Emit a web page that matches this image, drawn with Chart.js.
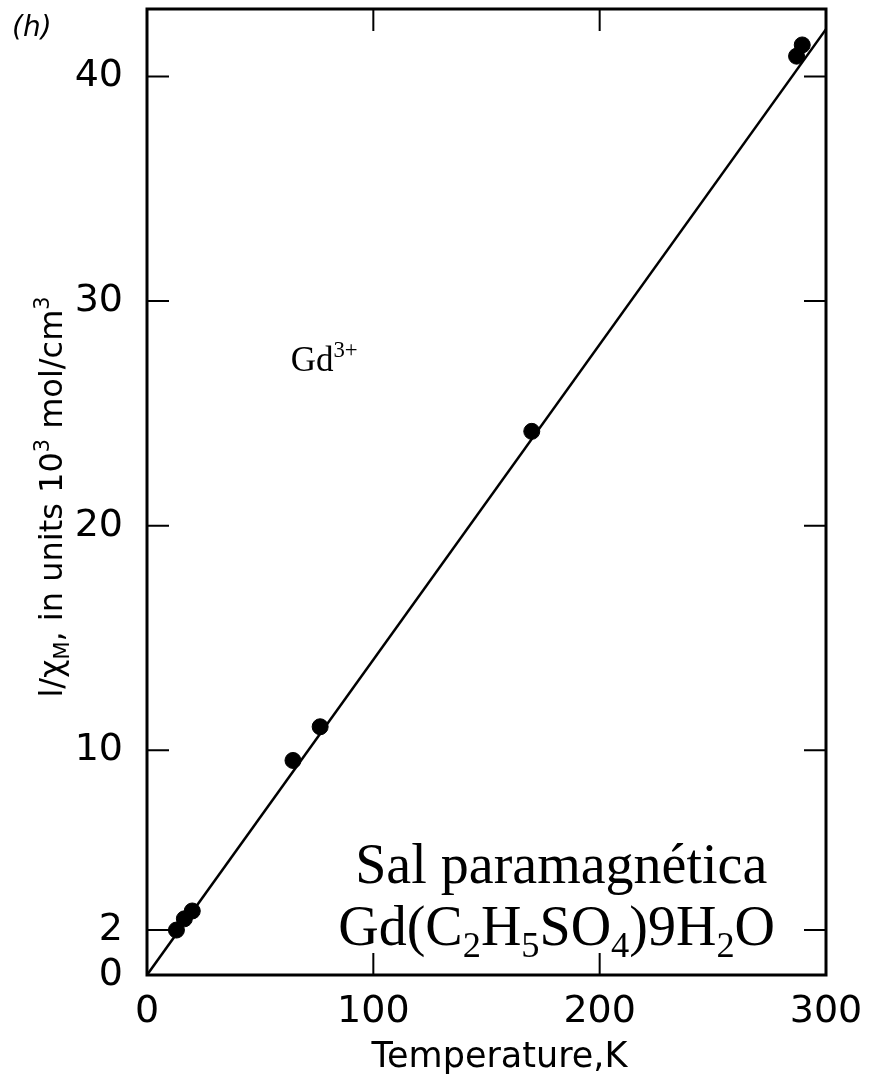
<!DOCTYPE html>
<html>
<head>
<meta charset="utf-8">
<script src="https://cdn.jsdelivr.net/npm/chart.js@4.4.1/dist/chart.umd.min.js"></script>
<style>
  html, body { margin: 0; padding: 0; background: #fff; }
  #wrap { width: 873px; height: 1080px; }
</style>
</head>
<body>
<div id="wrap"><canvas id="chart" width="873" height="1080"></canvas></div>
<script>
// datos
const tempK = [13, 16.5, 20, 64.5, 76.5, 170, 287, 289.5];
const invChi = [2.0, 2.5, 2.85, 9.55, 11.05, 24.2, 40.9, 41.4];
const fitT = [0, 300];
const fitInvChi = [0, 42.1];
const xTicks = [0, 100, 200, 300];
const yTicks = [0, 2, 10, 20, 30, 40];
const xMarks = [100, 200];
const yMarks = [2, 10, 20, 30, 40];

const panelLabel = "(h)";
const ionLabel = [["Gd", ""], ["3+", "sup"]];
const saltLine1 = [["Sal paramagnética", ""]];
const saltLine2 = [["Gd(C", ""], ["2", "sub"], ["H", ""], ["5", "sub"], ["SO", ""], ["4", "sub"], [")9H", ""], ["2", "sub"], ["O", ""]];
const yTitle = [["l/χ", ""], ["M", "sub"], [", in units 10", ""], ["3", "sup"], [" mol/cm", ""], ["3", "sup"]];
const xTitle = "Temperature,K";

const sans = '"DejaVu Sans", sans-serif';
const serif = '"Liberation Serif", "Times New Roman", serif';

// texto con subindices / superindices
function drawRich(ctx, parts, x, y, size, family) {
  let cx = x;
  parts.forEach(([t, kind]) => {
    const s = kind ? size * 0.65 : size;
    const dy = kind === "sub" ? size * 0.22 : kind === "sup" ? -size * 0.4 : 0;
    ctx.font = `${s}px ${family}`;
    ctx.fillText(t, cx, y + dy);
    cx += ctx.measureText(t).width;
  });
  return cx - x;
}
function richWidth(ctx, parts, size, family) {
  let w = 0;
  parts.forEach(([t, kind]) => {
    ctx.font = `${kind ? size * 0.65 : size}px ${family}`;
    w += ctx.measureText(t).width;
  });
  return w;
}

const overlay = {
  id: "overlay",
  afterDatasetsDraw(chart) {
    const { ctx, chartArea: a, scales: { x, y } } = chart;
    ctx.save();
    ctx.strokeStyle = "#000";
    ctx.fillStyle = "#000";
    ctx.lineWidth = 3;
    ctx.strokeRect(a.left, a.top, a.right - a.left, a.bottom - a.top);

    // marcas hacia dentro
    ctx.lineWidth = 2;
    ctx.beginPath();
    xMarks.forEach(v => {
      const px = x.getPixelForValue(v);
      ctx.moveTo(px, a.bottom); ctx.lineTo(px, a.bottom - 22);
      ctx.moveTo(px, a.top); ctx.lineTo(px, a.top + 22);
    });
    yMarks.forEach(v => {
      const py = y.getPixelForValue(v);
      ctx.moveTo(a.left, py); ctx.lineTo(a.left + 22, py);
      ctx.moveTo(a.right, py); ctx.lineTo(a.right - 22, py);
    });
    ctx.stroke();

    ctx.textBaseline = "alphabetic";
    ctx.textAlign = "left";
    ctx.font = `oblique 28px ${sans}`;
    ctx.fillText(panelLabel, 12, 36);

    drawRich(ctx, ionLabel, x.getPixelForValue(63.5), y.getPixelForValue(26.9), 35, serif);
    drawRich(ctx, saltLine1, x.getPixelForValue(92), y.getPixelForValue(4.1), 56, serif);
    drawRich(ctx, saltLine2, x.getPixelForValue(84.5), y.getPixelForValue(1.35), 56, serif);

    // titulo del eje y
    const w = richWidth(ctx, yTitle, 32, sans);
    ctx.translate(62, 497);
    ctx.rotate(-Math.PI / 2);
    drawRich(ctx, yTitle, -w / 2, 0, 32, sans);
    ctx.restore();

    // titulo del eje x
    ctx.save();
    ctx.fillStyle = "#000";
    ctx.textAlign = "center";
    ctx.textBaseline = "alphabetic";
    ctx.font = `35px ${sans}`;
    ctx.fillText(xTitle, (a.left + a.right) / 2 + 13, 1067);
    ctx.restore();
  }
};

new Chart(document.getElementById("chart"), {
  type: "scatter",
  data: {
    datasets: [
      {
        type: "line",
        data: fitT.map((t, i) => ({ x: t, y: fitInvChi[i] })),
        borderColor: "#000",
        borderWidth: 2.5,
        pointRadius: 0,
        fill: false
      },
      {
        data: tempK.map((t, i) => ({ x: t, y: invChi[i] })),
        backgroundColor: "#000",
        borderColor: "#000",
        pointRadius: 8,
        pointHoverRadius: 8
      }
    ]
  },
  plugins: [overlay],
  options: {
    responsive: false,
    devicePixelRatio: 1,
    animation: false,
    layout: { padding: { top: 7, right: 47, left: 0, bottom: 0 } },
    plugins: { legend: { display: false }, tooltip: { enabled: false } },
    scales: {
      x: {
        type: "linear",
        min: 0,
        max: 300,
        afterBuildTicks: s => { s.ticks = xTicks.map(v => ({ value: v })); },
        afterFit: s => { s.height = 105; s.paddingLeft = 0; s.paddingRight = 0; },
        grid: { drawOnChartArea: false, drawTicks: false },
        border: { display: false },
        ticks: { color: "#000", padding: 14, font: { family: sans, size: 38 } }
      },
      y: {
        type: "linear",
        min: 0,
        max: 43,
        afterBuildTicks: s => { s.ticks = yTicks.map(v => ({ value: v })); },
        afterFit: s => { s.width = 147; s.paddingTop = 0; s.paddingBottom = 0; },
        grid: { drawOnChartArea: false, drawTicks: false },
        border: { display: false },
        ticks: { color: "#000", padding: 24, font: { family: sans, size: 38 } }
      }
    }
  }
});
</script>
</body>
</html>
